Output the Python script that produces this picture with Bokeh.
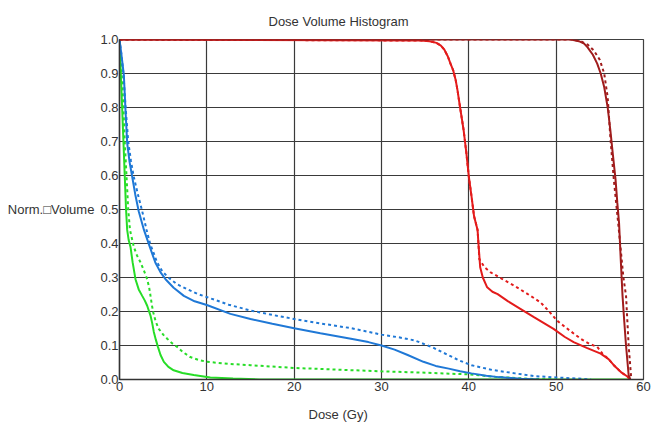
from bokeh.plotting import figure
from bokeh.models import ColumnDataSource, FixedTicker, Range1d, Title
from bokeh.embed import file_html
from bokeh.resources import INLINE

# ---- data (dose in Gy, normalized volume) ----
green_solid_x = [0, 0.15, 0.3, 0.45, 0.6, 0.75, 0.88, 1.05, 1.26, 1.5, 1.83, 2.2, 2.6, 2.9, 3.17, 3.55, 3.75, 3.93, 4.15, 4.4, 4.7, 5.08, 5.6, 6.2, 7.2, 8.5, 10.4, 13, 16, 58.5]
green_solid_y = [1.0, 0.9, 0.8, 0.7, 0.6, 0.5, 0.44, 0.41, 0.39, 0.345, 0.295, 0.265, 0.246, 0.232, 0.217, 0.188, 0.165, 0.14, 0.118, 0.096, 0.072, 0.052, 0.037, 0.027, 0.019, 0.013, 0.006, 0.003, 0.0, 0.0]

green_dot_x = [0, 0.25, 0.45, 0.6, 0.8, 1.0, 1.2, 1.64, 2.0, 2.4, 2.8, 3.17, 3.4, 3.55, 3.7, 3.86, 4.15, 4.5, 5.0, 5.46, 6.0, 6.6, 7.3, 8.1, 9.0, 10.0, 12.5, 15, 20, 25, 30, 35, 40, 43, 47, 50]
green_dot_y = [1.0, 0.9, 0.8, 0.7, 0.6, 0.5, 0.44, 0.39, 0.365, 0.345, 0.32, 0.295, 0.27, 0.246, 0.22, 0.198, 0.17, 0.149, 0.132, 0.12, 0.107, 0.096, 0.08, 0.066, 0.058, 0.052, 0.046, 0.042, 0.034, 0.029, 0.024, 0.02, 0.015, 0.008, 0.002, 0.0]

blue_solid_x = [0, 0.2, 0.5, 0.69, 0.88, 1.15, 1.45, 1.8, 2.2, 2.8, 3.36, 4.1, 4.7, 5.27, 6.2, 7.37, 8.6, 10, 12.7, 15, 17.5, 20, 23, 26.5, 28.5, 30, 31.5, 33, 34.8, 36.2, 37.7, 39, 40.3, 42, 43.4, 46, 48]
blue_solid_y = [1.0, 0.96, 0.895, 0.79, 0.695, 0.64, 0.597, 0.545, 0.495, 0.44, 0.398, 0.344, 0.315, 0.295, 0.27, 0.246, 0.23, 0.219, 0.193, 0.178, 0.164, 0.151, 0.136, 0.12, 0.11, 0.1, 0.088, 0.072, 0.052, 0.04, 0.032, 0.024, 0.018, 0.011, 0.007, 0.002, 0.0]

blue_dot_x = [0, 0.2, 0.45, 0.7, 1.0, 1.3, 1.6, 2.1, 2.6, 3.1, 3.5, 4.3, 4.9, 5.6, 6.6, 7.8, 8.9, 10.05, 12.5, 15, 17.5, 20, 23, 26.5, 30, 32, 33.8, 35.8, 37.7, 39, 40.3, 42.7, 45.3, 47.5, 50, 53, 54]
blue_dot_y = [1.0, 0.96, 0.9, 0.8, 0.7, 0.645, 0.6, 0.545, 0.495, 0.44, 0.4, 0.345, 0.318, 0.3, 0.28, 0.265, 0.252, 0.242, 0.22, 0.203, 0.19, 0.178, 0.165, 0.151, 0.132, 0.124, 0.115, 0.095, 0.071, 0.055, 0.042, 0.028, 0.018, 0.01, 0.006, 0.002, 0.0]

red_solid_x = [0, 34.5, 35.5, 36.3, 36.8, 37.2, 37.6, 37.9, 38.2, 38.5, 38.7, 39.0, 39.4, 39.7, 40.0, 40.3, 40.6, 41.0, 41.1, 41.3, 41.6, 42.1, 42.7, 43.3, 44.5, 45.9, 47.5, 49.7, 51.0, 52.0, 53.5, 55.1, 56.0, 56.6, 57.5, 58.2, 58.4]
red_solid_y = [1.0, 0.997, 0.995, 0.99, 0.982, 0.97, 0.95, 0.929, 0.91, 0.88, 0.851, 0.8, 0.734, 0.67, 0.597, 0.54, 0.48, 0.44, 0.4, 0.33, 0.3, 0.271, 0.258, 0.251, 0.23, 0.208, 0.183, 0.149, 0.125, 0.11, 0.093, 0.076, 0.06, 0.042, 0.02, 0.008, 0.0]

red_dot_x = [0, 34.5, 35.5, 36.3, 36.8, 37.2, 37.6, 37.9, 38.2, 38.5, 38.7, 39.0, 39.4, 39.7, 40.0, 40.3, 40.6, 41.0, 41.1, 41.2, 41.8, 42.5, 43.8, 45.2, 46.7, 48.2, 49.2, 50.1, 51.5, 52.8, 53.8, 54.7, 55.3, 56.0, 56.6, 57.5, 58.2, 58.5]
red_dot_y = [1.0, 0.997, 0.995, 0.99, 0.982, 0.97, 0.95, 0.929, 0.91, 0.88, 0.851, 0.8, 0.734, 0.67, 0.597, 0.54, 0.48, 0.44, 0.4, 0.354, 0.33, 0.315, 0.296, 0.276, 0.252, 0.227, 0.2, 0.173, 0.145, 0.12, 0.105, 0.096, 0.076, 0.06, 0.042, 0.02, 0.008, 0.0]

dkred_solid_x = [0, 51.7, 52.6, 53.2, 53.6, 54.2, 54.7, 55.1, 55.5, 55.9, 56.2, 56.5, 56.8, 57.0, 57.2, 57.4, 57.6, 57.8, 58.0, 58.3, 58.5]
dkred_solid_y = [1.0, 1.0, 0.995, 0.988, 0.977, 0.955, 0.929, 0.9, 0.86, 0.8, 0.734, 0.66, 0.588, 0.52, 0.461, 0.35, 0.246, 0.17, 0.1, 0.013, 0.0]

dkred_dot_x = [0, 51.7, 52.8, 53.6, 54.3, 55.0, 55.5, 55.9, 56.2, 56.6, 57.1, 57.4, 57.7, 58.0, 58.3, 58.6]
dkred_dot_y = [1.0, 1.0, 0.995, 0.985, 0.968, 0.94, 0.9, 0.83, 0.714, 0.588, 0.46, 0.38, 0.3, 0.246, 0.1, 0.0]

x_ticks = [0, 10, 20, 30, 40, 50, 60]
x_tick_labels = ["0", "10", "20", "30", "40", "50", "60"]
y_ticks = [0.0, 0.1, 0.2, 0.3, 0.4, 0.5, 0.6, 0.7, 0.8, 0.9, 1.0]
y_tick_labels = ["0.0", "0.1", "0.2", "0.3", "0.4", "0.5", "0.6", "0.7", "0.8", "0.9", "1.0"]

title_text = "Dose Volume Histogram"
x_label_text = "Dose (Gy)"
y_label_text = "Norm.\u25a1Volume"

FONT = "Liberation Sans"
TXT = "#333333"
GREEN = "#27dd27"
BLUE = "#1f78d6"
RED = "#e31b1b"
DKRED = "#a01c1c"

p = figure(width=651, height=432, output_backend="svg", toolbar_location=None,
           x_range=Range1d(0, 60), y_range=Range1d(0, 1),
           min_border_left=119, min_border_right=8, min_border_top=39, min_border_bottom=51)
p.background_fill_color = "white"
p.border_fill_color = "white"
p.outline_line_color = "#404040"
p.outline_line_width = 1.2

for g in (p.xgrid, p.ygrid):
    g.grid_line_color = "#3a3a3a"
    g.grid_line_width = 1.2
p.xgrid.ticker = FixedTicker(ticks=x_ticks)
p.ygrid.ticker = FixedTicker(ticks=y_ticks)

p.xaxis.ticker = FixedTicker(ticks=x_ticks)
p.yaxis.ticker = FixedTicker(ticks=y_ticks)
p.xaxis.major_label_overrides = {t: l for t, l in zip(x_ticks, x_tick_labels)}
p.yaxis.major_label_overrides = {t: l for t, l in zip(y_ticks, y_tick_labels)}
for ax in (p.xaxis, p.yaxis):
    ax.major_tick_out = 0
    ax.major_tick_in = 0
    ax.minor_tick_out = 0
    ax.minor_tick_in = 0
    ax.axis_line_color = "#333333"
    ax.axis_line_width = 1.5
    ax.major_label_text_font = FONT
    ax.major_label_text_font_size = "13px"
    ax.major_label_text_color = TXT
p.yaxis.major_label_standoff = 1
p.xaxis.major_label_standoff = 2

# y-axis label, horizontal if supported
yax = p.yaxis[0]
yax.axis_label = y_label_text
yax.axis_label_text_font = FONT
yax.axis_label_text_font_size = "13px"
yax.axis_label_text_font_style = "normal"
yax.axis_label_text_color = TXT
yax.axis_label_standoff = 3
if hasattr(yax, "axis_label_orientation"):
    yax.axis_label_orientation = "horizontal"


def add_line(xs, ys, color, dash):
    src = ColumnDataSource(dict(x=xs, y=ys))
    p.line("x", "y", source=src, line_color=color, line_width=2, line_dash=dash)


add_line(green_dot_x, green_dot_y, GREEN, "3 3")
add_line(green_solid_x, green_solid_y, GREEN, "solid")
add_line(blue_dot_x, blue_dot_y, BLUE, "3 3")
add_line(blue_solid_x, blue_solid_y, BLUE, "solid")
add_line(red_dot_x, red_dot_y, RED, "3 3")
add_line(red_solid_x, red_solid_y, RED, "solid")
add_line(dkred_dot_x, dkred_dot_y, DKRED, "3 3")
add_line(dkred_solid_x, dkred_solid_y, DKRED, "solid")

t_top = Title(text=title_text, align="left", offset=149, text_font=FONT, text_font_size="13px",
              text_font_style="normal", text_color=TXT)
t_bot = Title(text=x_label_text, align="left", offset=189, text_font=FONT, text_font_size="13px",
              text_font_style="normal", text_color=TXT)
if hasattr(t_top, "standoff"):
    t_top.standoff = 21
    t_bot.standoff = 22
p.add_layout(t_top, "above")
p.add_layout(t_bot, "below")

open("out.html", "w").write(file_html(p, INLINE))
